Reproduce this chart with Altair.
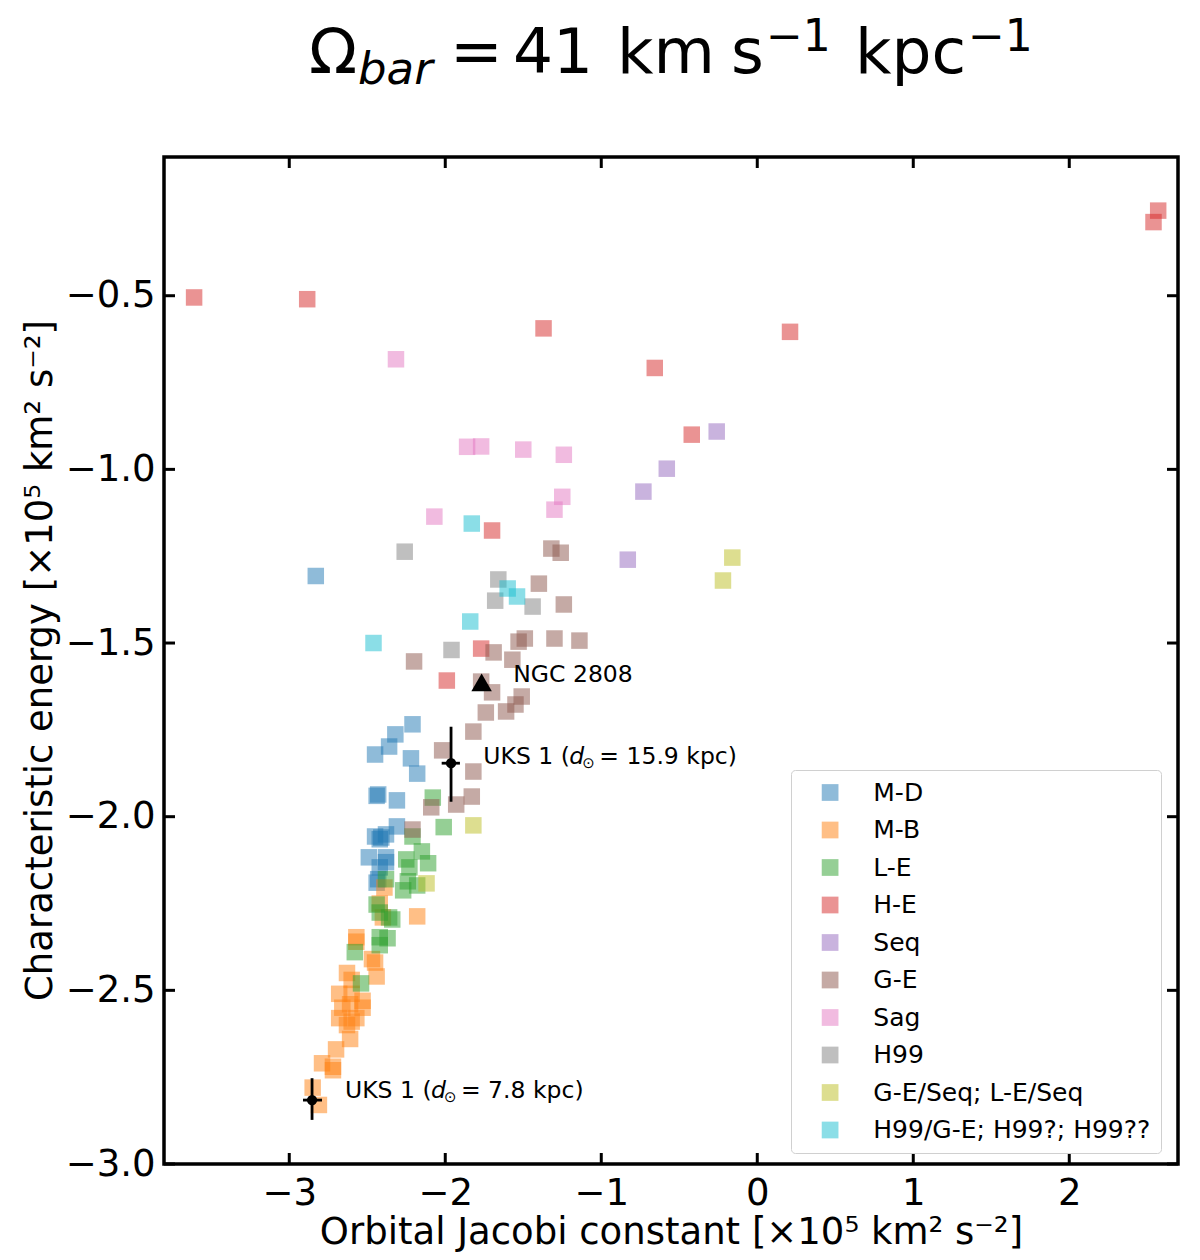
import altair as alt
import pandas as pd

# ---------------- data ----------------
groups = ["M-D", "M-B", "L-E", "H-E", "Seq", "G-E", "Sag", "H99",
          "G-E/Seq; L-E/Seq", "H99/G-E; H99?; H99??"]
colors = ["#1f77b4", "#ff7f0e", "#2ca02c", "#d62728", "#9467bd",
          "#8c564b", "#e377c2", "#7f7f7f", "#bcbd22", "#17becf"]

md_x = [-2.83, -2.21, -2.32, -2.36, -2.45, -2.22, -2.18, -2.43, -2.44, -2.31, -2.31,
        -2.45, -2.38, -2.42, -2.41, -2.49, -2.38, -2.38, -2.42, -2.43, -2.44]
md_y = [-1.307, -1.734, -1.763, -1.798, -1.821, -1.832, -1.876, -1.936, -1.94, -1.953, -2.028,
        -2.057, -2.051, -2.065, -2.06, -2.117, -2.117, -2.131, -2.146, -2.18, -2.19]

mb_x = [-2.39, -2.18, -2.40, -2.42, -2.57, -2.57, -2.47, -2.45, -2.44, -2.63, -2.60, -2.68,
        -2.60, -2.53, -2.66, -2.61, -2.53, -2.68, -2.60, -2.57, -2.63, -2.61, -2.70, -2.79,
        -2.72, -2.72, -2.85, -2.81]
mb_y = [-2.204, -2.287, -2.29, -2.25, -2.347, -2.36, -2.41, -2.42, -2.46, -2.45, -2.47, -2.51,
        -2.51, -2.53, -2.55, -2.54, -2.55, -2.58, -2.59, -2.58, -2.60, -2.64, -2.67, -2.71,
        -2.72, -2.73, -2.78, -2.83]

le_x = [-2.08, -2.01, -2.21, -2.15, -2.25, -2.11, -2.23, -2.38, -2.24, -2.18, -2.27, -2.44,
        -2.42, -2.34, -2.36, -2.42, -2.58, -2.37, -2.42, -2.54]
le_y = [-1.945, -2.03, -2.057, -2.10, -2.123, -2.134, -2.146, -2.18, -2.186, -2.198, -2.212,
        -2.253, -2.276, -2.296, -2.29, -2.347, -2.39, -2.35, -2.37, -2.48]

he_x = [-3.61, -2.885, -1.37, 0.21, -0.657, -0.42, 2.57, 2.54, -1.70, -1.77, -1.99]
he_y = [-0.505, -0.51, -0.594, -0.604, -0.708, -0.90, -0.255, -0.288, -1.176, -1.516, -1.608]

seq_x = [-0.26, -0.58, -0.73, -0.83]
seq_y = [-0.891, -0.998, -1.064, -1.26]

ge_x = [-1.32, -1.26, -1.40, -1.24, -1.69, -1.53, -1.49, -1.30, -1.14, -2.20, -1.57, -1.77,
        -1.70, -1.51, -1.55, -1.61, -1.74, -1.82, -2.02, -1.82, -2.09, -1.83, -1.93, -2.21]
ge_y = [-1.228, -1.24, -1.329, -1.389, -1.527, -1.496, -1.487, -1.487, -1.493, -1.553, -1.548,
        -1.611, -1.642, -1.654, -1.677, -1.697, -1.70, -1.755, -1.809, -1.870, -1.973, -1.942,
        -1.965, -2.037]

sag_x = [-2.316, -1.86, -1.77, -1.50, -1.24, -1.25, -1.30, -2.07]
sag_y = [-0.683, -0.935, -0.934, -0.943, -0.958, -1.079, -1.116, -1.136]

h99_x = [-2.26, -1.66, -1.68, -1.44, -1.96]
h99_y = [-1.237, -1.317, -1.378, -1.395, -1.52]

ges_x = [-0.16, -0.22, -1.82, -2.12]
ges_y = [-1.254, -1.32, -2.025, -2.192]

hge_x = [-1.83, -1.60, -1.54, -1.84, -2.46]
hge_y = [-1.156, -1.343, -1.366, -1.438, -1.50]

# UKS 1 at two distances (point + error bars)
uks_x = [-1.963, -2.854]
uks_y = [-1.846, -2.816]
uks_xlo = [-2.023, -2.912]
uks_xhi = [-1.906, -2.790]
uks_ylo = [-1.957, -2.873]
uks_yhi = [-1.741, -2.753]
uks_lab_x = [-1.756, -2.643]
uks_lab_y = [-1.827, -2.79]
uks_dist = ["= 15.9 kpc)", "= 7.8 kpc)"]

# NGC 2808
ngc_x = [-1.767]
ngc_y = [-1.613]
ngc_lab_x = [-1.564]
ngc_lab_y = [-1.592]
ngc_lab = ["NGC 2808"]

xticks = [-3, -2, -1, 0, 1, 2]
yticks = [-3.0, -2.5, -2.0, -1.5, -1.0, -0.5]

# ---------------- build tables ----------------
gx = [md_x, mb_x, le_x, he_x, seq_x, ge_x, sag_x, h99_x, ges_x, hge_x]
gy = [md_y, mb_y, le_y, he_y, seq_y, ge_y, sag_y, h99_y, ges_y, hge_y]
rows = []
for g, xs, ys in zip(groups, gx, gy):
    for a, b in zip(xs, ys):
        rows.append({"x": a, "y": b, "group": g})
pts = pd.DataFrame(rows)

uks = pd.DataFrame({"x": uks_x, "y": uks_y, "xlo": uks_xlo, "xhi": uks_xhi,
                    "ylo": uks_ylo, "yhi": uks_yhi})
uks_lab = pd.DataFrame({"x": uks_lab_x, "y": uks_lab_y, "dist": uks_dist})
ngc = pd.DataFrame({"x": ngc_x, "y": ngc_y})
ngc_l = pd.DataFrame({"x": ngc_lab_x, "y": ngc_lab_y, "t": ngc_lab})
xt = pd.DataFrame({"x": xticks})
yt = pd.DataFrame({"y": yticks})
one = pd.DataFrame({"a": [0]})

W, H = 1014, 1007
FONT = "DejaVu Sans"
TICK = 11
AFS = 23.5   # annotation font size

xscale = alt.Scale(domain=[-3.803, 2.697], nice=False, zero=False)
yscale = alt.Scale(domain=[-3.0, -0.1006], nice=False, zero=False)
xaxis = alt.Axis(title="Orbital Jacobi constant [×10⁵ km² s⁻²]", values=xticks, format="d",
                 ticks=False, domain=False, grid=False, labelFontSize=37, labelPadding=11,
                 labelColor="black", titleColor="black", titleFontSize=37,
                 titleFontWeight="normal", titleX=507, titleY=68, titleBaseline="middle",
                 titleAlign="center")
yaxis = alt.Axis(title="Characteristic energy [×10⁵ km² s⁻²]", values=yticks, format=".1f",
                 ticks=False, domain=False, grid=False, labelFontSize=37, labelPadding=9,
                 labelColor="black", titleColor="black", titleFontSize=37,
                 titleFontWeight="normal", titleX=-124, titleY=503, titleAngle=270,
                 titleBaseline="middle", titleAlign="center")


def X(f="x"):
    return alt.X(f, type="quantitative", scale=xscale, axis=xaxis)


def Y(f="y"):
    return alt.Y(f, type="quantitative", scale=yscale, axis=yaxis)


points = alt.Chart(pts).mark_square(size=272, opacity=0.5, strokeWidth=0).encode(
    x=X(), y=Y(),
    color=alt.Color("group:N", scale=alt.Scale(domain=groups, range=colors),
                    sort=groups,
                    legend=alt.Legend(orient="none", legendX=627, legendY=613, title=None,
                                      symbolType="square", symbolSize=280,
                                      symbolOpacity=0.5, symbolStrokeWidth=0,
                                      labelFontSize=25, labelFont=FONT, labelColor="black",
                                      rowPadding=11.5, padding=10, fillColor="white",
                                      strokeColor="#d0d0d0", cornerRadius=4,
                                      symbolOffset=16.6, labelOffset=30.7, labelLimit=400))
)

vbar = alt.Chart(uks).mark_rule(color="black", strokeWidth=2.8).encode(
    x=X(), y=Y("ylo"), y2="yhi")
hbar = alt.Chart(uks).mark_rule(color="black", strokeWidth=2.8).encode(
    x=X("xlo"), x2="xhi", y=Y())
uks_pt = alt.Chart(uks).mark_circle(color="black", opacity=1, size=106).encode(x=X(), y=Y())
ngc_pt = alt.Chart(ngc).mark_point(shape="triangle-up", filled=True, color="black",
                                   opacity=1, size=420).encode(x=X(), y=Y())

ngc_txt = alt.Chart(ngc_l).mark_text(align="left", baseline="middle", fontSize=AFS,
                                      font=FONT, color="black").encode(
    x=X(), y=Y(), text="t:N")
uks_t1 = alt.Chart(uks_lab).mark_text(align="left", baseline="middle", fontSize=AFS,
                                       font=FONT, color="black", text="UKS 1 (").encode(
    x=X(), y=Y())
uks_t2 = alt.Chart(uks_lab).mark_text(align="left", baseline="middle", fontSize=AFS,
                                       font=FONT, fontStyle="italic", color="black",
                                       text="d", dx=86).encode(x=X(), y=Y())
uks_t3 = alt.Chart(uks_lab).mark_text(align="left", baseline="middle", fontSize=15,
                                       font=FONT, color="black", text="⊙", dx=99,
                                       dy=6).encode(x=X(), y=Y())
uks_t4 = alt.Chart(uks_lab).mark_text(align="left", baseline="middle", fontSize=AFS,
                                       font=FONT, color="black", dx=116).encode(
    x=X(), y=Y(), text="dist:N")

# inward ticks on all four sides
tick_b = alt.Chart(xt).mark_rule(color="black", strokeWidth=3).encode(
    x=X(), y=alt.value(H), y2=alt.value(H - TICK))
tick_t = alt.Chart(xt).mark_rule(color="black", strokeWidth=3).encode(
    x=X(), y=alt.value(0), y2=alt.value(TICK))
tick_l = alt.Chart(yt).mark_rule(color="black", strokeWidth=3).encode(
    y=Y(), x=alt.value(0), x2=alt.value(TICK))
tick_r = alt.Chart(yt).mark_rule(color="black", strokeWidth=3).encode(
    y=Y(), x=alt.value(W), x2=alt.value(W - TICK))

# title pieces: Ω_bar = 41 km s^-1 kpc^-1
title_parts = [
    ("Ω", 145, -84, 63, "normal"),
    ("bar", 194, -73, 45, "italic"),
    ("=", 286, -84, 63, "normal"),
    ("41", 349, -84, 63, "normal"),
    ("km", 453, -84, 63, "normal"),
    ("s", 567, -84, 63, "normal"),
    ("−1", 602, -106, 44, "normal"),
    ("kpc", 691, -84, 63, "normal"),
    ("−1", 804, -106, 44, "normal"),
]
title_layers = []
for t, px, py, fs, st in title_parts:
    title_layers.append(
        alt.Chart(one).mark_text(text=t, align="left", baseline="alphabetic", fontSize=fs,
                                 font=FONT, fontStyle=st, color="black").encode(
            x=alt.value(px), y=alt.value(py)))

chart = alt.layer(points, vbar, hbar, uks_pt, ngc_pt, ngc_txt, uks_t1, uks_t2, uks_t3, uks_t4,
                  tick_b, tick_t, tick_l, tick_r, *title_layers).properties(
    width=W, height=H,
    autosize=alt.AutoSizeParams(type="none"),
    padding={"left": 156, "top": 149, "right": 14, "bottom": 88},
).configure(font=FONT).configure_view(stroke="black", strokeWidth=3.5)

chart.save("out.html", embed_options={"renderer": "svg", "actions": False})
